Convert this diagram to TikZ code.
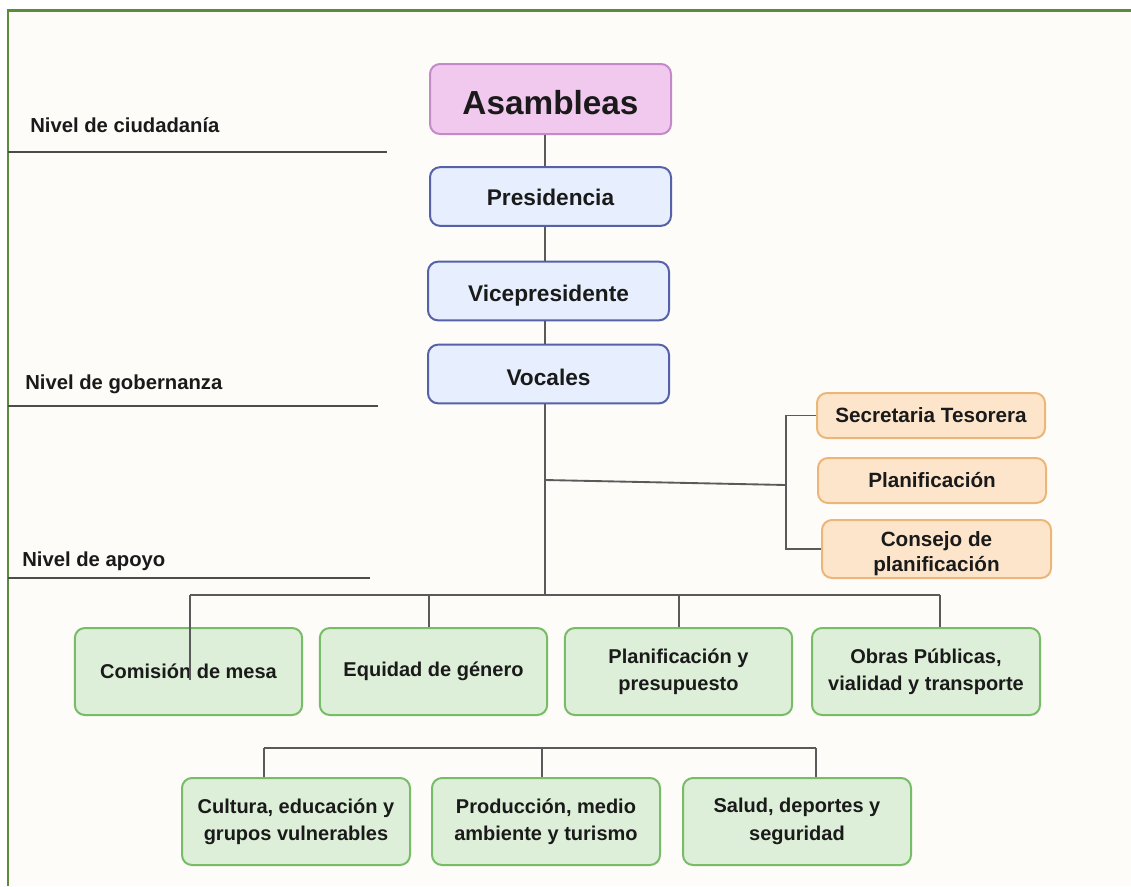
\documentclass[tikz,border=0pt]{standalone}
\usepackage{fontspec}
\setmainfont{Liberation Sans}
\usetikzlibrary{calc}
\definecolor{bgc}{HTML}{FDFCF8}
\definecolor{frame}{HTML}{5B8C3A}
\definecolor{pinkf}{HTML}{F1C9EE}
\definecolor{pinkd}{HTML}{C48AC8}
\definecolor{bluef}{HTML}{E7EEFD}
\definecolor{blued}{HTML}{5561A8}
\definecolor{orf}{HTML}{FDE5CC}
\definecolor{ord}{HTML}{EDB679}
\definecolor{grf}{HTML}{DDEFD8}
\definecolor{grd}{HTML}{79BC67}
\definecolor{linec}{HTML}{5A5A5A}
\definecolor{txt}{HTML}{1A1A1A}
\newcommand{\lowr}[2]{\raisebox{-#1}[\height][\depth]{#2}}
\tikzset{
  box/.style={draw, line width=1.5pt, rounded corners=7.5pt, inner sep=0pt, align=center, text=txt, font=\bfseries},
  pinkbox/.style={box, fill=pinkf, draw=pinkd, minimum width=180.75pt, minimum height=52.5pt, font=\bfseries\fontsize{25}{30}\selectfont},
  bluebox/.style={box, fill=bluef, draw=blued, minimum width=180.75pt, minimum height=44pt, font=\bfseries\fontsize{17}{20}\selectfont},
  orbox/.style={box, fill=orf, draw=ord, minimum width=171pt, font=\bfseries\fontsize{15.5}{20}\selectfont},
  grbox/.style={box, fill=grf, draw=grd, minimum width=170.5pt, minimum height=65.25pt, font=\bfseries\fontsize{15}{20.5}\selectfont},
  conn/.style={draw=linec, line width=1.4pt},
  lvl/.style={anchor=base west, inner sep=0pt, text=txt, font=\bfseries\fontsize{15.2}{18}\selectfont},
  lvlline/.style={draw=linec!85!black, line width=1.5pt}
}
\begin{document}
\begin{tikzpicture}[x=0.75pt,y=-0.75pt]
\useasboundingbox (0,0) rectangle (1131,886);
\fill[white] (0,0) rectangle (1131,886);
\fill[bgc] (8,10) rectangle (1131,886);
\draw[frame, line width=2pt] (8,886) -- (8,10.5) -- (1131,10.5);

% level labels
\node[lvl] (l1) at (30,132) {Nivel de ciudadanía};
\node[lvl] (l2) at (25,389) {Nivel de gobernanza};
\node[lvl] (l3) at (22,566) {Nivel de apoyo};
\coordinate (l1a) at (8,152); \coordinate (l1b) at (387,152);
\coordinate (l2a) at (8,406); \coordinate (l2b) at (378,406);
\coordinate (l3a) at (8,578); \coordinate (l3b) at (370,578);
\draw[lvlline] (l1a) -- (l1b);
\draw[lvlline] (l2a) -- (l2b);
\draw[lvlline] (l3a) -- (l3b);

% main chain
\node[pinkbox] (asam) at (550.5,99) {\lowr{3pt}{Asambleas}};
\node[bluebox] (pres) at (550.5,196.5) {\lowr{0.8pt}{Presidencia}};
\node[bluebox] (vice) at (548.5,291) {\lowr{3.5pt}{Vicepresidente}};
\node[bluebox] (voc) at (548.5,374) {\lowr{2.2pt}{Vocales}};

% support
\node[orbox, minimum height=33.75pt] (sec) at (931,415.5) {Secretaria Tesorera};
\node[orbox, minimum height=33.75pt] (plan) at (932,480.5) {Planificación};
\node[orbox, minimum height=43.5pt, minimum width=171.75pt] (cons) at (936.5,549) {\lowr{3.5pt}{\begin{tabular}{@{}c@{}}Consejo de\\[-1pt]planificación\end{tabular}}};

% commissions row 1
\node[grbox] (g1) at (188.5,671.5) {Comisión de mesa};
\node[grbox] (g2) at (433.5,671.5) {Equidad de género};
\node[grbox] (g3) at (678.5,671.5) {Planificación y\\presupuesto};
\node[grbox, minimum width=171pt] (g4) at (926,671.5) {Obras Públicas,\\vialidad y transporte};

% commissions row 2
\node[grbox, minimum width=171pt] (h1) at (296,821.5) {Cultura, educación y\\grupos vulnerables};
\node[grbox, minimum width=171pt] (h2) at (546,821.5) {Producción, medio\\ambiente y turismo};
\node[grbox, minimum width=171pt] (h3) at (797,821.5) {Salud, deportes y\\seguridad};

% trunk
\coordinate (t0) at (545,595);
\draw[conn] (asam.south -| t0) -- (pres.north -| t0);
\draw[conn] (pres.south -| t0) -- (vice.north -| t0);
\draw[conn] (vice.south -| t0) -- (voc.north -| t0);
\draw[conn] (voc.south -| t0) -- (t0);

% branch to support
\coordinate (j1) at (545,480);
\coordinate (j2) at (786,485);
\draw[conn] (j1) -- (j2);
\draw[conn] (sec.west) -- (sec.west -| j2) -- (cons.west -| j2) -- (cons.west);

% bus row 1
\coordinate (b1) at (190,595);
\coordinate (b4) at (940,595);
\coordinate (b1e) at (190,680);
\draw[conn] (b1) -- (b4);
\draw[conn] (b1) -- (b1e);
\draw[conn] (429,595) coordinate (b2) -- (g2.north -| b2);
\draw[conn] (679,595) coordinate (b3) -- (g3.north -| b3);
\draw[conn] (b4) -- (g4.north -| b4);

% bus row 2
\coordinate (c1) at (264,748);
\coordinate (c2) at (542,748);
\coordinate (c3) at (816,748);
\draw[conn] (c1) -- (c3);
\draw[conn] (c1) -- (h1.north -| c1);
\draw[conn] (c2) -- (h2.north -| c2);
\draw[conn] (c3) -- (h3.north -| c3);
\end{tikzpicture}
\end{document}
